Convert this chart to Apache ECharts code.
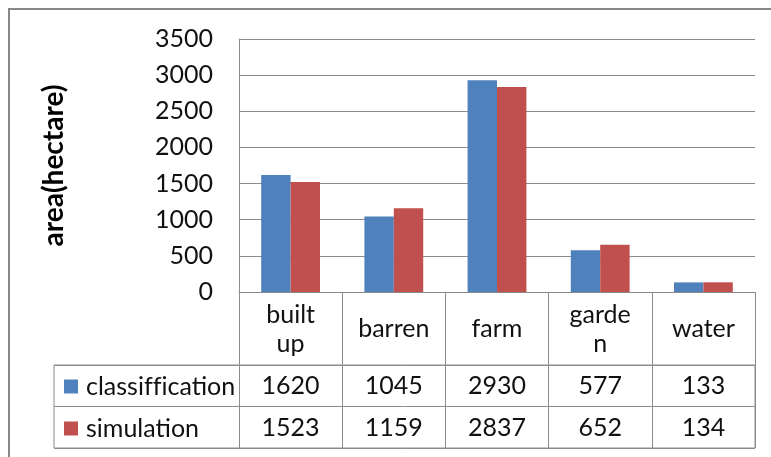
<!DOCTYPE html>
<html>
<head>
<meta charset="utf-8">
<script src="https://cdn.jsdelivr.net/npm/echarts@6/dist/echarts.min.js"></script>
<style>
html,body{margin:0;padding:0;background:#fff;}
#frame{position:absolute;left:8px;top:8px;width:800px;height:500px;border:2px solid #878787;box-sizing:border-box;z-index:0;}
#chart{position:absolute;left:0;top:0;width:771px;height:457px;z-index:1;}
</style>
</head>
<body>
<div id="frame"></div>
<div id="chart"></div>
<script>
// ---- data ----
const categories = ['built up', 'barren', 'farm', 'garden', 'water'];
const categoryLabels = ['built\nup', 'barren', 'farm', 'garde\nn', 'water'];
const seriesNames = ['classiffication', 'simulation'];
const classification = [1620, 1045, 2930, 577, 133];
const simulation = [1523, 1159, 2837, 652, 134];
const yMin = 0, yMax = 3500, yStep = 500;
const axisTitle = 'area(hectare)';

// ---- styles ----
const FONT = 'Lato, "Open Sans", sans-serif';
const FS = 25;
const LINE = '#8c8c8c';
const TXT = '#111';
const BLUE = '#4F81BD';
const RED = '#C0504D';

// avoid typographic ligatures (ffi) that Calibri would not show
const noLig = s => s.replace(/f(?=[fil])/g, 'f\u200C');

const chart = echarts.init(document.getElementById('chart'), null, {renderer: 'canvas'});

function valueAxis(values, margin) {
  return {
    type: 'category', gridIndex: 0, position: 'bottom',
    data: categories,
    axisLine: {show: false}, axisTick: {show: false}, splitLine: {show: false},
    axisLabel: {
      interval: 0, margin: margin, verticalAlign: 'middle',
      fontFamily: FONT, fontSize: FS, color: TXT,
      formatter: (v, i) => String(values[i])
    }
  };
}

const option = {
  animation: false,
  textStyle: {fontFamily: FONT},
  color: [BLUE, RED],
  grid: [
    {left: 239, top: 39, width: 516, height: 253, containLabel: false},
    {left: 54, top: 365, width: 701, height: 83, show: true, borderColor: LINE, borderWidth: 1, backgroundColor: 'transparent'}
  ],
  legend: {
    orient: 'vertical', left: 64, top: 374, padding: 0,
    itemWidth: 14, itemHeight: 14, itemGap: 17,
    icon: 'rect',
    data: seriesNames,
    formatter: name => noLig(name),
    textStyle: {fontFamily: FONT, fontSize: FS, color: TXT, padding: [0, 0, 0, 3]},
    selectedMode: false
  },
  xAxis: [
    {
      type: 'category', gridIndex: 0, position: 'bottom',
      data: categories,
      axisLine: {show: true, lineStyle: {color: LINE, width: 1}},
      axisTick: {show: true, interval: 0, length: 156, lineStyle: {color: LINE, width: 1}},
      axisLabel: {
        interval: 0, margin: 37, verticalAlign: 'middle',
        fontFamily: FONT, fontSize: FS, color: TXT, lineHeight: 29,
        formatter: (v, i) => categoryLabels[i]
      },
      splitLine: {show: false}
    },
    valueAxis(classification, 94),
    valueAxis(simulation, 136),
    {type: 'value', gridIndex: 1, show: false, min: 0, max: 1}
  ],
  yAxis: [
    {
      type: 'value', gridIndex: 0, min: yMin, max: yMax, interval: yStep,
      name: axisTitle, nameLocation: 'middle', nameRotate: 90, nameGap: 171,
      nameTextStyle: {fontFamily: FONT, fontSize: 28, fontWeight: 'bold', color: '#000'},
      axisLine: {show: true, lineStyle: {color: LINE, width: 1}},
      axisTick: {show: false},
      axisLabel: {fontFamily: FONT, fontSize: FS, color: TXT, margin: 26, formatter: v => String(v)},
      splitLine: {show: true, lineStyle: {color: LINE, width: 1}}
    },
    {
      type: 'category', gridIndex: 1, inverse: true, data: seriesNames,
      axisLine: {show: false}, axisTick: {show: false}, axisLabel: {show: false},
      splitLine: {show: true, interval: 0, lineStyle: {color: LINE, width: 1}}
    }
  ],
  series: [
    {name: seriesNames[0], type: 'bar', xAxisIndex: 0, yAxisIndex: 0, data: classification,
     barGap: '0%', barCategoryGap: '43%', itemStyle: {color: BLUE}},
    {name: seriesNames[1], type: 'bar', xAxisIndex: 0, yAxisIndex: 0, data: simulation,
     barGap: '0%', barCategoryGap: '43%', itemStyle: {color: RED}}
  ]
};
chart.setOption(option);
</script>
</body>
</html>
